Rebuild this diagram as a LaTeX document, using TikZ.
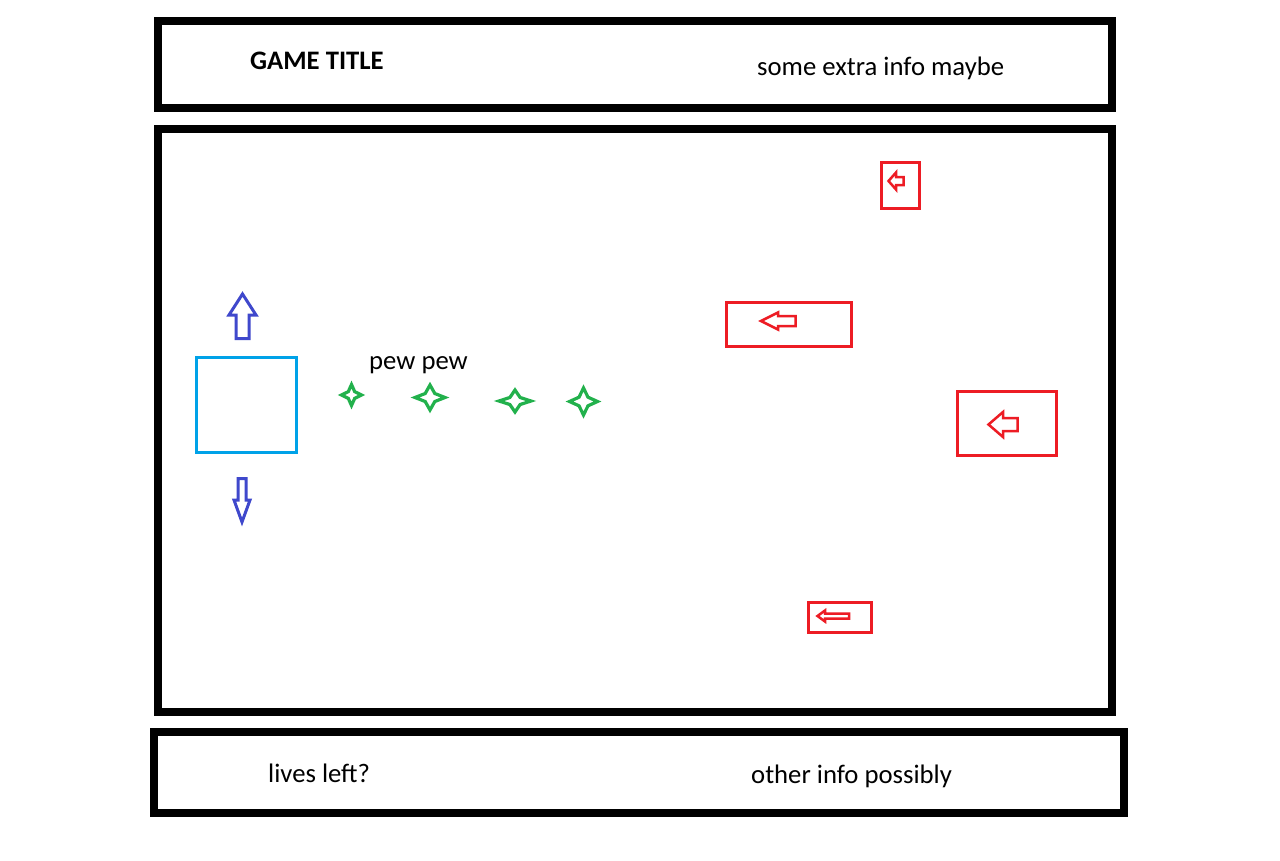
\documentclass[tikz,border=0pt]{standalone}
\usepackage{fontspec}
\setmainfont{Carlito}
\begin{document}
\begin{tikzpicture}[x=1pt,y=-1pt,
  frame/.style={draw=black,line width=8pt},
  enemy/.style={draw=enemyred,line width=3pt},
  enemyarrow/.style={draw=enemyred,line width=2.5pt,line join=miter},
  player/.style={draw=playerblue,line width=3pt},
  movearrow/.style={draw=movearrow,line width=3pt,line join=miter},
  shot/.style={draw=shotgreen,line width=3.2pt,line join=miter},
  label/.style={inner sep=0pt,anchor=base west,font=\fontsize{26.7}{32}\selectfont}]
\definecolor{enemyred}{RGB}{237,28,36}
\definecolor{playerblue}{RGB}{0,162,232}
\definecolor{movearrow}{RGB}{63,72,204}
\definecolor{shotgreen}{RGB}{34,177,76}
\useasboundingbox[fill=white] (0,0) rectangle (1280,860);
% frames
\draw[frame] (158,21) rectangle (1112,108);
\draw[frame] (158,129) rectangle (1112,712);
\draw[frame] (154,732) rectangle (1124,813);
% texts
\node[label,font=\fontsize{26.7}{32}\selectfont\bfseries] (title) at (250,69) {GAME TITLE};
\node[label] (extra) at (757,75) {some extra info maybe};
\node[label] (lives) at (268,782) {lives left?};
\node[label] (other) at (751,783) {other info possibly};
\node[label] (pew) at (369,369) {pew pew};
% player
\draw[player] (196.5,357) rectangle (296,452.5);
\draw[movearrow] (242.5,294) -- (256,315) -- (249,315) -- (249,338.5) -- (236,338.5) -- (236,315) -- (229,315) -- cycle;
\draw[movearrow] (242,522) -- (250,500) -- (246,500) -- (246,478.5) -- (238,478.5) -- (238,500) -- (234,500) -- cycle;
% shots
\newcommand\fourstar[4]{\draw[shot] (#1+#3,#2) -- (#1+0.32*#3,#2-0.32*#4) -- (#1,#2-#4) -- (#1-0.32*#3,#2-0.32*#4) -- (#1-#3,#2) -- (#1-0.32*#3,#2+0.32*#4) -- (#1,#2+#4) -- (#1+0.32*#3,#2+0.32*#4) -- cycle;}
\fourstar{351.5}{395}{10}{10.5}
\fourstar{430}{397.5}{15}{12.5}
\fourstar{515}{401}{16}{11}
\fourstar{583.5}{401.5}{14}{13.5}
% enemies
\newcommand\leftarr[6]{\draw[enemyarrow] (#1,#2) -- (#3,#2-#4) -- (#3,#2-#5) -- (#6,#2-#5) -- (#6,#2+#5) -- (#3,#2+#5) -- (#3,#2+#4) -- cycle;}
\draw[enemy] (881,162) rectangle (919,208);
\leftarr{888.5}{181}{896}{8.5}{4}{903.5}
\draw[enemy] (726,302) rectangle (851,346);
\leftarr{761}{321}{778}{8.5}{5}{795.5}
\draw[enemy] (957,391) rectangle (1056,455);
\leftarr{988.5}{424.5}{1003}{12.5}{6.5}{1017.5}
\draw[enemy] (808.5,602) rectangle (871,632);
\leftarr{817.5}{616}{825}{5.5}{2.5}{849}
\end{tikzpicture}
\end{document}
